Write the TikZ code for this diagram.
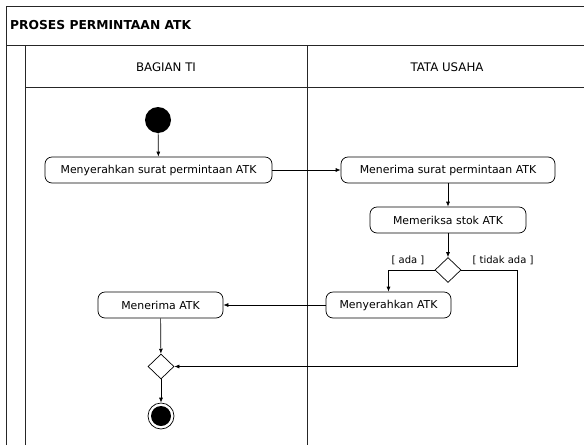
\documentclass[tikz,border=0pt]{standalone}
\usepackage{fontspec}
\setmainfont{DejaVu Sans}
\usetikzlibrary{shapes.geometric,arrows.meta}
\begin{document}
\begin{tikzpicture}[x=1pt,y=-1pt,
  font=\fontsize{10.9}{13}\selectfont,
  frame/.style={line width=1pt,black!85},
  act/.style={draw,rounded corners=7pt,line width=0.7pt,minimum height=26pt,inner sep=0pt,anchor=center},
  dec/.style={draw,diamond,line width=0.7pt,minimum width=26pt,minimum height=25pt,inner sep=0pt,aspect=1},
  flow/.style={line width=0.7pt,-{Latex[length=5pt,width=4pt]}},
  lane/.style={font=\fontsize{11.8}{14}\selectfont},
  guard/.style={font=\fontsize{10}{12}\selectfont}]
\useasboundingbox (0,0) rectangle (584,445);

% swimlane frame
\draw[frame] (6,445) -- (6,6) -- (584,6);
\draw[frame] (6,45) -- (584,45);
\draw[frame] (25,445) -- (25,45);
\draw[frame] (25,87) -- (584,87);
\draw[frame] (307,45) -- (307,445);
\node[anchor=west,font=\fontsize{12.3}{14}\selectfont\bfseries,inner sep=0pt] (title) at (10,25) {PROSES PERMINTAAN ATK};
\node[lane] (laneA) at (166,67) {BAGIAN TI};
\node[lane] (laneB) at (447,67) {TATA USAHA};

% activities
\node[circle,fill=black,minimum size=26pt,inner sep=0pt] (start) at (158,120) {};
\node[act,minimum width=227pt] (a1) at (158.5,170) {Menyerahkan surat permintaan ATK};
\node[act,minimum width=214pt] (a2) at (448,170) {Menerima surat permintaan ATK};
\node[act,minimum width=156pt] (a3) at (448,220) {Memeriksa stok ATK};
\node[dec] (d1) at (448,270) {};
\node[act,minimum width=125pt] (a4) at (388.5,305) {Menyerahkan ATK};
\node[act,minimum width=125pt] (a5) at (160.5,305) {Menerima ATK};
\node[dec] (d2) at (161,366.5) {};
\node[circle,draw,line width=0.7pt,minimum size=26pt,inner sep=0pt] (end) at (161,416) {};
\node[circle,fill=black,minimum size=20pt,inner sep=0pt] (endin) at (end.center) {};

\coordinate (c1) at (517,270);
\coordinate (c2) at (517,366.5);

% flows
\draw[flow] (start) -- (a1);
\draw[flow] (a1) -- (a2);
\draw[flow] (a2) -- (a3);
\draw[flow] (a3) -- (d1);
\draw[flow] (d1.west) -| (a4.north);
\draw[flow] (d1.east) -- (c1) -- (c2) -- (d2.east);
\draw[flow] (a4) -- (a5);
\draw[flow] (a5) -- (d2);
\draw[flow] (d2) -- (end);

\node[guard] (g1) at (408,260) {[ ada ]};
\node[guard] (g2) at (503,260) {[ tidak ada ]};
\end{tikzpicture}
\end{document}
